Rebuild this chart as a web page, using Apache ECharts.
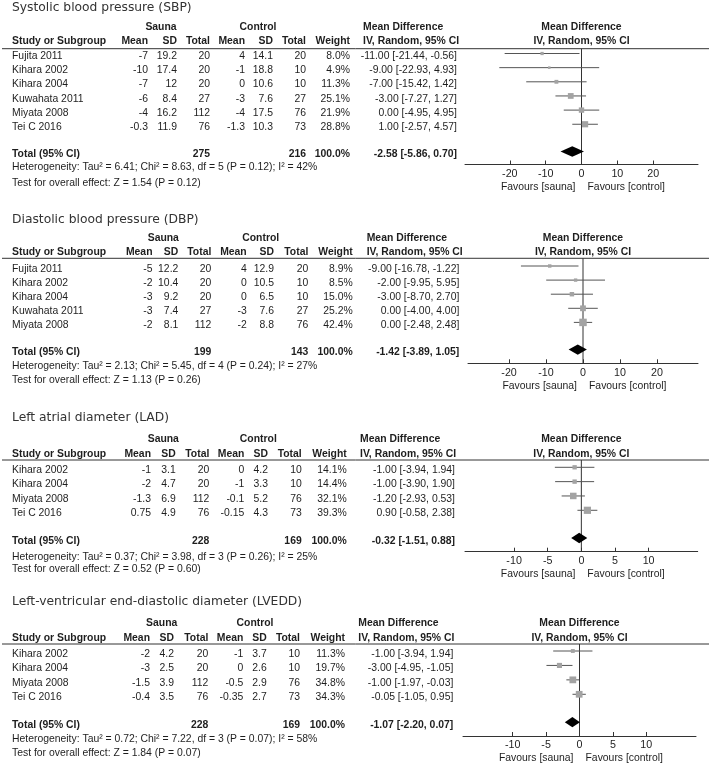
<!DOCTYPE html>
<html><head><meta charset="utf-8">
<script src="https://cdn.jsdelivr.net/npm/echarts@6/dist/echarts.min.js"></script>
<style>html,body{margin:0;padding:0;background:#fff}#c{width:709px;height:766px}</style>
</head><body><div id="c"></div>
<script>
// ===== Systolic blood pressure (SBP) =====
const sbpTitle = 'Systolic blood pressure (SBP)';
const sbpStudies = ['Fujita 2011','Kihara 2002','Kihara 2004','Kuwahata 2011','Miyata 2008','Tei C 2016'];
const sbpSaunaMean = [-7,-10,-7,-6,-4,-0.3];
const sbpSaunaSD = [19.2,17.4,12,8.4,16.2,11.9];
const sbpSaunaN = [20,20,20,27,112,76];
const sbpCtrlMean = [4,-1,0,-3,-4,-1.3];
const sbpCtrlSD = [14.1,18.8,10.6,7.6,17.5,10.3];
const sbpCtrlN = [20,10,10,27,76,73];
const sbpWeight = [8.0,4.9,11.3,25.1,21.9,28.8];
const sbpMD = [-11,-9,-7,-3,0,1];
const sbpLo = [-21.44,-22.93,-15.42,-7.27,-4.95,-2.57];
const sbpHi = [-0.56,4.93,1.42,1.27,4.95,4.57];
const sbpTotalN = [275,216];
const sbpTotalMD = [-2.58,-5.86,0.70];
const sbpHet = [6.41,8.63,5,0.12,42];
const sbpTest = [1.54,0.12];
const sbpTicks = [-20,-10,0,10,20];

// ===== Diastolic blood pressure (DBP) =====
const dbpTitle = 'Diastolic blood pressure (DBP)';
const dbpStudies = ['Fujita 2011','Kihara 2002','Kihara 2004','Kuwahata 2011','Miyata 2008'];
const dbpSaunaMean = [-5,-2,-3,-3,-2];
const dbpSaunaSD = [12.2,10.4,9.2,7.4,8.1];
const dbpSaunaN = [20,20,20,27,112];
const dbpCtrlMean = [4,0,0,-3,-2];
const dbpCtrlSD = [12.9,10.5,6.5,7.6,8.8];
const dbpCtrlN = [20,10,10,27,76];
const dbpWeight = [8.9,8.5,15.0,25.2,42.4];
const dbpMD = [-9,-2,-3,0,0];
const dbpLo = [-16.78,-9.95,-8.70,-4.00,-2.48];
const dbpHi = [-1.22,5.95,2.70,4.00,2.48];
const dbpTotalN = [199,143];
const dbpTotalMD = [-1.42,-3.89,1.05];
const dbpHet = [2.13,5.45,4,0.24,27];
const dbpTest = [1.13,0.26];
const dbpTicks = [-20,-10,0,10,20];

// ===== Left atrial diameter (LAD) =====
const ladTitle = 'Left atrial diameter (LAD)';
const ladStudies = ['Kihara 2002','Kihara 2004','Miyata 2008','Tei C 2016'];
const ladSaunaMean = [-1,-2,-1.3,0.75];
const ladSaunaSD = [3.1,4.7,6.9,4.9];
const ladSaunaN = [20,20,112,76];
const ladCtrlMean = [0,-1,-0.1,-0.15];
const ladCtrlSD = [4.2,3.3,5.2,4.3];
const ladCtrlN = [10,10,76,73];
const ladWeight = [14.1,14.4,32.1,39.3];
const ladMD = [-1,-1,-1.2,0.9];
const ladLo = [-3.94,-3.90,-2.93,-0.58];
const ladHi = [1.94,1.90,0.53,2.38];
const ladTotalN = [228,169];
const ladTotalMD = [-0.32,-1.51,0.88];
const ladHet = [0.37,3.98,3,0.26,25];
const ladTest = [0.52,0.60];
const ladTicks = [-10,-5,0,5,10];

// ===== Left-ventricular end-diastolic diameter (LVEDD) =====
const lveddTitle = 'Left-ventricular end-diastolic diameter (LVEDD)';
const lveddStudies = ['Kihara 2002','Kihara 2004','Miyata 2008','Tei C 2016'];
const lveddSaunaMean = [-2,-3,-1.5,-0.4];
const lveddSaunaSD = [4.2,2.5,3.9,3.5];
const lveddSaunaN = [20,20,112,76];
const lveddCtrlMean = [-1,0,-0.5,-0.35];
const lveddCtrlSD = [3.7,2.6,2.9,2.7];
const lveddCtrlN = [10,10,76,73];
const lveddWeight = [11.3,19.7,34.8,34.3];
const lveddMD = [-1,-3,-1,-0.05];
const lveddLo = [-3.94,-4.95,-1.97,-1.05];
const lveddHi = [1.94,-1.05,-0.03,0.95];
const lveddTotalN = [228,169];
const lveddTotalMD = [-1.07,-2.20,0.07];
const lveddHet = [0.72,7.22,3,0.07,58];
const lveddTest = [1.84,0.07];
const lveddTicks = [-10,-5,0,5,10];

const groupLabels = ['Sauna','Control'];
const favourLabels = ['Favours [sauna]','Favours [control]'];

// ---- assemble panels (data) ----
const panels = [
  {title:sbpTitle, studies:sbpStudies, sm:sbpSaunaMean, ssd:sbpSaunaSD, sn:sbpSaunaN, cm:sbpCtrlMean, csd:sbpCtrlSD, cn:sbpCtrlN, w:sbpWeight, md:sbpMD, lo:sbpLo, hi:sbpHi, tn:sbpTotalN, tmd:sbpTotalMD, het:sbpHet, test:sbpTest, ticks:sbpTicks},
  {title:dbpTitle, studies:dbpStudies, sm:dbpSaunaMean, ssd:dbpSaunaSD, sn:dbpSaunaN, cm:dbpCtrlMean, csd:dbpCtrlSD, cn:dbpCtrlN, w:dbpWeight, md:dbpMD, lo:dbpLo, hi:dbpHi, tn:dbpTotalN, tmd:dbpTotalMD, het:dbpHet, test:dbpTest, ticks:dbpTicks},
  {title:ladTitle, studies:ladStudies, sm:ladSaunaMean, ssd:ladSaunaSD, sn:ladSaunaN, cm:ladCtrlMean, csd:ladCtrlSD, cn:ladCtrlN, w:ladWeight, md:ladMD, lo:ladLo, hi:ladHi, tn:ladTotalN, tmd:ladTotalMD, het:ladHet, test:ladTest, ticks:ladTicks},
  {title:lveddTitle, studies:lveddStudies, sm:lveddSaunaMean, ssd:lveddSaunaSD, sn:lveddSaunaN, cm:lveddCtrlMean, csd:lveddCtrlSD, cn:lveddCtrlN, w:lveddWeight, md:lveddMD, lo:lveddLo, hi:lveddHi, tn:lveddTotalN, tmd:lveddTotalMD, het:lveddHet, test:lveddTest, ticks:lveddTicks}
];

// ---- layout (positions only) ----
const layouts = [
  {titleY:8, grpY:27, hdrY:41, lineY:48.7, firstMark:53.5, sp:14.15, axisY:164.5, hetY:167.3, testY:182.7,
   c:{study:12, mean:148, sd:177, tot:210, cmean:245, csd:273, ctot:306, wt:350, md:457, mdHdr:363, sauna:161, ctrl:258},
   plotL:465, plotR:698, range:32.5},
  {titleY:220, grpY:238.3, hdrY:252.3, lineY:258.3, firstMark:266, sp:14.1, axisY:363.3, hetY:365.7, testY:380,
   c:{study:12, mean:152.5, sd:178.3, tot:211.3, cmean:246.7, csd:274, ctot:308.3, wt:352.7, md:459.3, mdHdr:366.7, sauna:163.3, ctrl:260.7},
   plotL:468, plotR:698, range:31.1},
  {titleY:417.7, grpY:439.3, hdrY:454, lineY:460, firstMark:467.3, sp:14.33, axisY:551.7, hetY:556.7, testY:568.7,
   c:{study:12, mean:151, sd:175.7, tot:209.3, cmean:244.3, csd:268, ctot:301.7, wt:346.7, md:455, mdHdr:360, sauna:163.3, ctrl:258.3},
   plotL:465, plotR:697.7, range:17.3},
  {titleY:601.7, grpY:623.3, hdrY:637.7, lineY:644, firstMark:651, sp:14.43, axisY:736, hetY:739, testY:753.3,
   c:{study:12, mean:150, sd:174, tot:208.3, cmean:243.3, csd:266.7, ctot:300, wt:345, md:453.3, mdHdr:358.3, sauna:161.7, ctrl:255},
   plotL:463, plotR:696, range:17.45}
];

const FONT = '"Liberation Sans", Arial, sans-serif';
const FS = 10.4;
const TXT = '#1e1e1e';
const TOTAL_GAP = 0.93;   // total row sits this far below the last study row slot
const TEXT_DY = 2.8;

function f2(v){ return v.toFixed(2); }
function mdStr(m,l,h){ return f2(m)+' ['+f2(l)+', '+f2(h)+']'; }
function txt(text,x,y,align,bold){
  return {type:'text', x:x, y:y, silent:true, style:{text:text, x:0, y:0, font:(bold?'bold ':'')+FS+'px '+FONT, fill:TXT, align:align, textAlign:align, verticalAlign:'middle', textVerticalAlign:'middle'}};
}
function stxt(text,x,y,align,bold){
  return {type:'text', style:{text:text, x:x, y:y, font:(bold?'bold ':'')+FS+'px '+FONT, fill:TXT, align:align, textAlign:align, verticalAlign:'middle', textVerticalAlign:'middle'}};
}

const grids=[], xAxes=[], yAxes=[], series=[], graphics=[];

panels.forEach(function(P, i){
  const L = layouts[i];
  const C = L.c;
  const n = P.studies.length;
  const ymin = (L.lineY - L.firstMark)/L.sp;
  const ymax = (L.axisY - L.firstMark)/L.sp;
  const totalRow = n + TOTAL_GAP;
  const zeroX = (L.plotL + L.plotR)/2;

  grids.push({left:L.plotL, top:L.lineY, width:L.plotR-L.plotL, height:L.axisY-L.lineY, containLabel:false});
  xAxes.push({gridIndex:i, type:'value', min:-L.range, max:L.range,
    axisLine:{show:true, onZero:false, lineStyle:{color:'#333', width:1}},
    axisTick:{show:true, inside:true, length:4, customValues:P.ticks, lineStyle:{color:'#333'}},
    axisLabel:{show:true, customValues:P.ticks, fontSize:FS+0.3, fontFamily:FONT, color:TXT, margin:4},
    splitLine:{show:false}});
  yAxes.push({gridIndex:i, type:'value', inverse:true, min:ymin, max:ymax, show:false});

  // line of no effect
  series.push({type:'line', xAxisIndex:i, yAxisIndex:i, data:[[0,ymin],[0,ymax]], symbol:'none', silent:true,
    lineStyle:{color:'#333', width:1}, z:1});

  // study CIs and weight squares
  series.push({type:'custom', xAxisIndex:i, yAxisIndex:i, clip:false, silent:true, z:3,
    encode:{x:0, y:1},
    data:P.md.map(function(m,k){ return [m, k, P.lo[k], P.hi[k], P.w[k]]; }),
    renderItem:function(params, api){
      const y = api.value(1);
      const c = api.coord([api.value(0), y]);
      const a = api.coord([api.value(2), y]);
      const b = api.coord([api.value(3), y]);
      const s = 1.15*Math.sqrt(api.value(4));
      return {type:'group', children:[
        {type:'line', shape:{x1:a[0], y1:a[1], x2:b[0], y2:b[1]}, style:{stroke:'#555', lineWidth:1}},
        {type:'rect', shape:{x:c[0]-s/2, y:c[1]-s/2, width:s, height:s}, style:{fill:'#a3a3a3'}}
      ]};
    }});

  // pooled diamond
  series.push({type:'custom', xAxisIndex:i, yAxisIndex:i, clip:false, silent:true, z:4,
    encode:{x:0, y:1},
    data:[[P.tmd[0], totalRow, P.tmd[1], P.tmd[2]]],
    renderItem:function(params, api){
      const y = api.value(1);
      const c = api.coord([api.value(0), y]);
      const a = api.coord([api.value(2), y]);
      const b = api.coord([api.value(3), y]);
      return {type:'polygon', shape:{points:[[a[0],c[1]],[c[0],c[1]-5.2],[b[0],c[1]],[c[0],c[1]+5.2]]}, style:{fill:'#000'}};
    }});

  // table rows, vertical position from the axis
  const rows = P.studies.map(function(s,k){ return [0, k]; });
  rows.push([0, totalRow]);
  series.push({type:'custom', xAxisIndex:i, yAxisIndex:i, clip:false, silent:true, z:5,
    encode:{x:0, y:1},
    data:rows,
    renderItem:function(params, api){
      const k = params.dataIndex;
      const y = api.coord([0, api.value(1)])[1] + TEXT_DY;
      if (k < n) {
        return {type:'group', children:[
          stxt(P.studies[k], C.study, y, 'left', false),
          stxt(String(P.sm[k]), C.mean, y, 'right', false),
          stxt(String(P.ssd[k]), C.sd, y, 'right', false),
          stxt(String(P.sn[k]), C.tot, y, 'right', false),
          stxt(String(P.cm[k]), C.cmean, y, 'right', false),
          stxt(String(P.csd[k]), C.csd, y, 'right', false),
          stxt(String(P.cn[k]), C.ctot, y, 'right', false),
          stxt(P.w[k].toFixed(1)+'%', C.wt, y, 'right', false),
          stxt(mdStr(P.md[k], P.lo[k], P.hi[k]), C.md, y, 'right', false)
        ]};
      }
      const wsum = P.w.reduce(function(s,v){return s+v;},0);
      return {type:'group', children:[
        stxt('Total (95% CI)', C.study, y, 'left', true),
        stxt(String(P.tn[0]), C.tot, y, 'right', true),
        stxt(String(P.tn[1]), C.ctot, y, 'right', true),
        stxt(Math.round(wsum).toFixed(1)+'%', C.wt, y, 'right', true),
        stxt(mdStr(P.tmd[0], P.tmd[1], P.tmd[2]), C.md, y, 'right', true)
      ]};
    }});

  // title, headers, footers
  graphics.push({type:'text', x:12, y:L.titleY, silent:true, style:{text:P.title, font:'12.3px "DejaVu Sans", Verdana, sans-serif', fill:'#333', align:'left', textAlign:'left', verticalAlign:'middle', textVerticalAlign:'middle'}});
  graphics.push(txt(groupLabels[0], C.sauna, L.grpY, 'center', true));
  graphics.push(txt(groupLabels[1], C.ctrl, L.grpY, 'center', true));
  graphics.push(txt('Mean Difference', C.mdHdr, L.grpY, 'left', true));
  graphics.push(txt('Mean Difference', zeroX, L.grpY, 'center', true));
  graphics.push(txt('Study or Subgroup', C.study, L.hdrY, 'left', true));
  graphics.push(txt('Mean', C.mean, L.hdrY, 'right', true));
  graphics.push(txt('SD', C.sd, L.hdrY, 'right', true));
  graphics.push(txt('Total', C.tot, L.hdrY, 'right', true));
  graphics.push(txt('Mean', C.cmean, L.hdrY, 'right', true));
  graphics.push(txt('SD', C.csd, L.hdrY, 'right', true));
  graphics.push(txt('Total', C.ctot, L.hdrY, 'right', true));
  graphics.push(txt('Weight', C.wt, L.hdrY, 'right', true));
  graphics.push(txt('IV, Random, 95% CI', C.mdHdr, L.hdrY, 'left', true));
  graphics.push(txt('IV, Random, 95% CI', zeroX, L.hdrY, 'center', true));
  graphics.push({type:'line', silent:true, shape:{x1:2, y1:L.lineY, x2:709, y2:L.lineY}, style:{stroke:'#333', lineWidth:1}});
  const h = P.het;
  graphics.push(txt('Heterogeneity: Tau\u00B2 = '+f2(h[0])+'; Chi\u00B2 = '+f2(h[1])+', df = '+h[2]+' (P = '+f2(h[3])+'); I\u00B2 = '+h[4]+'%', C.study, L.hetY, 'left', false));
  graphics.push(txt('Test for overall effect: Z = '+f2(P.test[0])+' (P = '+f2(P.test[1])+')', C.study, L.testY, 'left', false));
  graphics.push(txt(favourLabels[0], zeroX - 6, L.axisY + 22.5, 'right', false));
  graphics.push(txt(favourLabels[1], zeroX + 6, L.axisY + 22.5, 'left', false));
});

const chart = echarts.init(document.getElementById('c'), null, {renderer:'canvas'});
chart.setOption({
  animation:false,
  backgroundColor:'#fff',
  grid:grids, xAxis:xAxes, yAxis:yAxes, series:series,
  graphic:{elements:graphics}
});
</script>
</body></html>
